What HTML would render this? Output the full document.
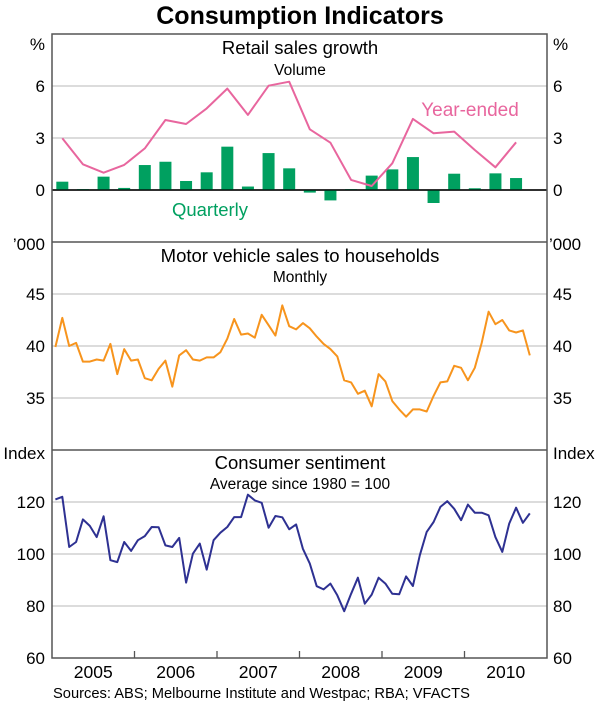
<!DOCTYPE html>
<html><head><meta charset="utf-8"><style>
body{margin:0;background:#fff;}
svg{display:block;font-family:"Liberation Sans",Arial,sans-serif;}
</style></head><body>
<svg id="c" width="600" height="706" viewBox="0 0 600 706">
<text x="300" y="24" text-anchor="middle" font-size="25" font-weight="bold">Consumption Indicators</text>
<g id="grid"></g><g id="marks"></g><g id="frame"></g><g id="labels"></g>
</svg>
<script>
const quarterlyGrowth=[0.48,0.05,0.77,0.12,1.44,1.63,0.52,1.02,2.5,0.2,2.13,1.25,-0.15,-0.6,0.05,0.83,1.19,1.9,-0.75,0.94,0.1,0.96,0.69];
const yearEnded=[2.98,1.48,1.0,1.45,2.4,4.04,3.81,4.71,5.85,4.33,6.02,6.25,3.5,2.73,0.58,0.23,1.54,4.1,3.27,3.37,2.31,1.31,2.75];
const motorSales=[39.9,42.7,40,40.3,38.5,38.5,38.7,38.6,40.2,37.3,39.7,38.6,38.7,36.9,36.7,37.8,38.6,36.1,39.1,39.6,38.7,38.6,38.9,38.9,39.4,40.7,42.6,41.1,41.2,40.8,43,42,41,43.9,41.9,41.6,42.2,41.7,40.9,40.2,39.7,39,36.7,36.5,35.4,35.7,34.2,37.3,36.6,34.7,33.9,33.2,33.9,33.9,33.7,35.2,36.5,36.6,38.1,37.9,36.7,37.9,40.3,43.3,42.1,42.5,41.5,41.3,41.5,39.1];
const sentiment=[121,122,102.7,104.6,113.3,110.8,106.5,114.5,97.6,96.9,104.6,101.2,105.3,106.9,110.4,110.3,103.3,102.7,106.2,89,100.1,104,94,105.3,108.2,110.4,114.2,114.2,122.8,120.6,119.7,110.1,114.6,114.1,109.5,111.4,102,96.3,87.6,86.4,88.6,84.1,78,84.7,90.9,80.9,84.4,90.9,88.6,84.7,84.5,91.4,87.7,99.5,108.5,112.3,118.1,120.3,117.4,113,119,115.9,115.9,114.9,106.5,100.8,111.7,117.8,112,115.6];
const years=["2005","2006","2007","2008","2009","2010"];
const retailTicks=[0,3,6];
const motorTicks=[35,40,45];
const sentTicks=[60,80,100,120];

const NS="http://www.w3.org/2000/svg";
const L=52,R=547;
const xT=t=>L+(t-2005)*(R-L)/6;
const xM=i=>xT(2005+(i+0.5)/12);
const xQ=i=>xT(2005+(i+0.5)/4);
const P1={top:34,bot:242,min:-3,max:9};
const P2={top:242,bot:450,min:30,max:50};
const P3={top:450,bot:658,min:60,max:140};
const yOf=(p,v)=>p.bot-(v-p.min)/(p.max-p.min)*(p.bot-p.top);
function el(tag,attrs,parent,txt){const e=document.createElementNS(NS,tag);for(const k in attrs)e.setAttribute(k,attrs[k]);if(txt!==undefined)e.textContent=txt;document.getElementById(parent).appendChild(e);return e;}
function text(x,y,s,size,anchor,fill,name){const t=el('text',{x:x,y:y,'font-size':size,'text-anchor':anchor,fill:fill||'#000'},'labels',s);


return t;}

function ticks(p,arr,nm){arr.forEach(v=>{const y=yOf(p,v);
if(y>p.top+1&&y<p.bot-1){const g=el('line',{x1:L,x2:R,y1:y,y2:y,stroke:v===0?'#000':'#c8c8c8','stroke-width':v===0?1.5:1.3},'grid');

}
text(45,y+6,String(v),17,'end','#000',nm+'-tick-left');
text(553,y+6,String(v),17,'start','#000',nm+'-tick-right');});}
ticks(P1,retailTicks,'retail');ticks(P2,motorTicks,'motor');ticks(P3,sentTicks,'sentiment');

const bw=12;
quarterlyGrowth.forEach((v,i)=>{const y0=yOf(P1,0),y=yOf(P1,v);
const b=el('rect',{x:xQ(i)-bw/2,y:Math.min(y0,y),width:bw,height:Math.abs(y-y0),fill:'#00a060'},'marks');

});
el('line',{x1:L,x2:R,y1:yOf(P1,0),y2:yOf(P1,0),stroke:'#000','stroke-width':1.3},'marks');
function line(arr,xf,p,col,nm){const pts=arr.map((v,i)=>xf(i).toFixed(1)+','+yOf(p,v).toFixed(1)).join(' ');
const l=el('polyline',{points:pts,fill:'none',stroke:col,'stroke-width':2,'stroke-linejoin':'round'},'marks');

}
line(yearEnded,xQ,P1,'#e8669e','year-ended-line');
line(motorSales,xM,P2,'#f7941d','motor-sales-line');
line(sentiment,xM,P3,'#2e3192','sentiment-line');

const fr=el('rect',{x:L,y:34,width:R-L,height:658-34,fill:'none',stroke:'#555','stroke-width':1.5},'frame');


[242,450].forEach(y=>{const s=el('line',{x1:L,x2:R,y1:y,y2:y,stroke:'#555','stroke-width':1.5},'frame');

});
for(let k=1;k<6;k++){const x=xT(2005+k);const t=el('line',{x1:x,x2:x,y1:658,y2:651,stroke:'#555','stroke-width':1.3},'frame');

}
years.forEach((s,i)=>text(xT(2005+i+0.5),678,s,17.5,'middle','#000','year-label'));

text(300,54,'Retail sales growth',18.5,'middle','#000','retail-panel-title');
text(300,75,'Volume',15.5,'middle','#000','retail-panel-subtitle');
text(470,116,'Year-ended',19,'middle','#e8669e','year-ended-label');
text(210,216,'Quarterly',18.5,'middle','#00a060','quarterly-label');
text(300,262,"Motor vehicle sales to households",18.5,'middle','#000','motor-panel-title');
text(300,282,'Monthly',15.5,'middle','#000','motor-panel-subtitle');
text(300,469,'Consumer sentiment',18.5,'middle','#000','sentiment-panel-title');
text(300,489,'Average since 1980 = 100',15.5,'middle','#000','sentiment-panel-subtitle');
text(45,50,'%',17,'end','#000','left-unit-percent');
text(553,50,'%',17,'start','#000','right-unit-percent');
text(45,250,'\u2019000',17,'end','#000','left-unit-thousands');
text(549,250,'\u2019000',17,'start','#000','right-unit-thousands');
text(45,459,'Index',17,'end','#000','left-unit-index');
text(553,459,'Index',17,'start','#000','right-unit-index');
text(53,698,'Sources: ABS; Melbourne Institute and Westpac; RBA; VFACTS',14.7,'start','#000','sources-note');
</script>
</body></html>
